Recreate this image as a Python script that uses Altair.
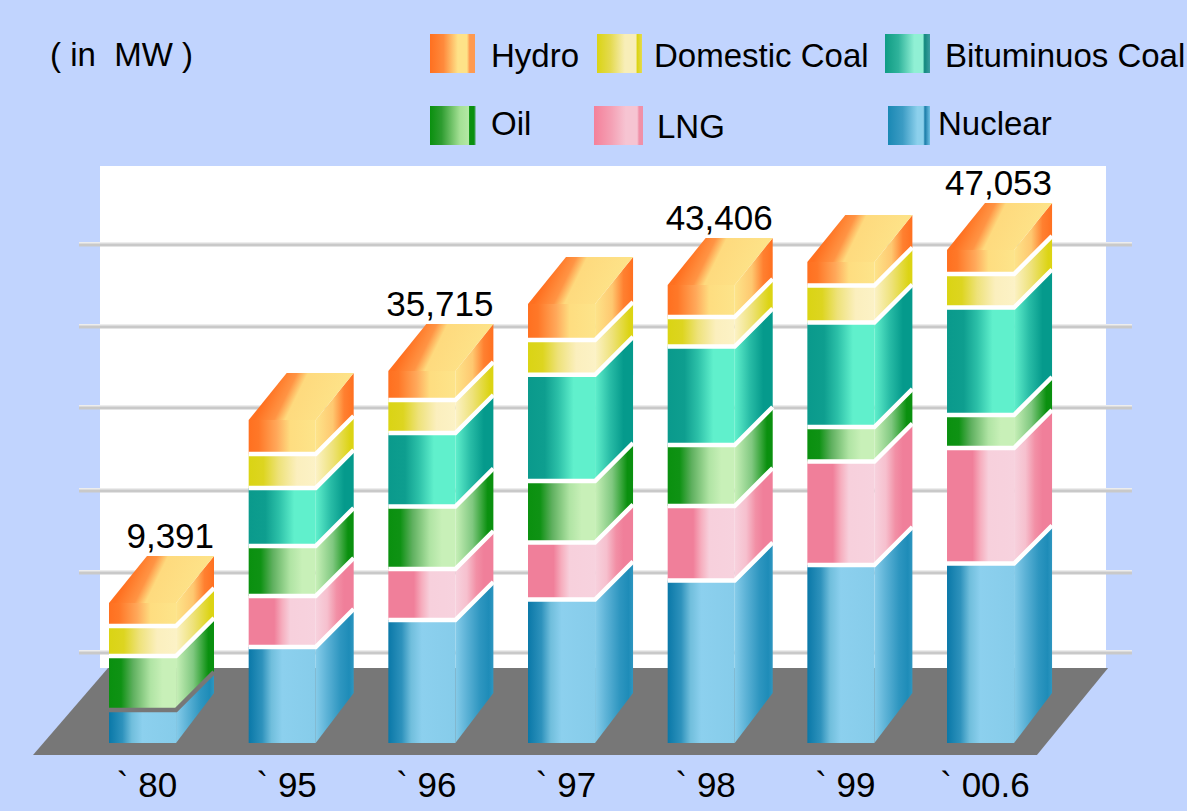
import altair as alt
import numpy as np
import pandas as pd

# Installed capacity in MW, bottom of the stack first.
YEARS = ["` 80", "` 95", "` 96", "` 97", "` 98", "` 99", "` 00.6"]
SERIES = ["Nuclear", "LNG", "Oil", "Bituminuos Coal", "Domestic Coal", "Hydro"]
NUCLEAR = [2214, 6440, 8251, 9788, 11944, 13703, 13873]
LNG = [0, 3745, 4998, 6468, 8454, 11744, 13106]
OIL = [3622, 5674, 7092, 6978, 6921, 3915, 3744]
BITUMINOUS = [0, 6581, 8340, 12051, 10587, 10690, 10671]
DOMESTIC = [2012, 3858, 3744, 3202, 2638, 3309, 3158]
HYDRO = [1543, 3858, 3290, 3220, 2862, 2442, 2501]
VALUES = [NUCLEAR, LNG, OIL, BITUMINOUS, DOMESTIC, HYDRO]
TOTAL_LABELS = {0: "9,391", 2: "35,715", 4: "43,406", 6: "47,053"}
GRID_MW = [6037, 12796, 22100, 31519, 39650, 47574]

# The value axis of this chart is not uniform: these pairs tie MW to drawn height.
AXIS_MW = [0, 9391, 35715, 43406, 47053, 60000]
AXIS_HEIGHT = [0, 140, 372, 458, 493, 617]

BAR_W, DEPTH_X = 0.48, 0.272
# Oblique rise of the receding edges: base of the bar, inner seams, top of the bar.
RISE_BASE, RISE_SEAM, RISE_TOP = 50, 38, 47

BACKGROUND = "#C1D4FE"
FLOOR = "#777777"


def grad(stops, x1=0, y1=0, x2=1, y2=0):
    return {
        "gradient": "linear", "x1": x1, "y1": y1, "x2": x2, "y2": y2,
        "stops": [{"offset": o, "color": c} for o, c in stops],
    }


FRONT = {
    "Nuclear": [(0, "#0A78A8"), (.2, "#2E92BC"), (.34, "#70BEDC"), (.5, "#8CD0EE"), (1, "#86CCEA")],
    "LNG": [(0, "#F07F9A"), (.38, "#F07F9A"), (.5, "#F6AEBE"), (.62, "#F7D0DC"), (1, "#F7D2DE")],
    "Oil": [(0, "#0A900F"), (.18, "#0F9214"), (.36, "#5FB05F"), (.62, "#B0E4A4"), (.8, "#C8F0B8"), (1, "#C8F0B8")],
    "Bituminuos Coal": [(0, "#0A9A8C"), (.25, "#0E9E8F"), (.45, "#2CC0A8"), (.68, "#60F0CC"), (1, "#60F0CC")],
    "Domestic Coal": [(0, "#DAD414"), (.22, "#DDD520"), (.45, "#EEE27A"), (.72, "#FBEFBE"), (1, "#FCF2C6")],
    "Hydro": [(0, "#FF7020"), (.15, "#FF7828"), (.42, "#FFA85A"), (.62, "#FEDD80"), (1, "#FDE48A")],
}
SIDE = {
    "Nuclear": [(0, "#86CCEA"), (.3, "#5CB2D6"), (.65, "#2E96C0"), (.88, "#1E8CB8"), (1, "#2E96C0")],
    "LNG": [(0, "#F7D2DE"), (.3, "#F6C0CE"), (.55, "#F290A6"), (.75, "#F07F9A"), (1, "#F07F9A")],
    "Oil": [(0, "#C8F0B8"), (.45, "#80C880"), (.85, "#0A900F"), (1, "#0A900F")],
    "Bituminuos Coal": [(0, "#60F0CC"), (.4, "#28BCA6"), (.75, "#059A8C"), (1, "#059A8C")],
    "Domestic Coal": [(0, "#FCF2C6"), (.45, "#EEE27A"), (.9, "#DCD414"), (1, "#DCD414")],
    "Hydro": [(0, "#FDE48A"), (.45, "#FEC870"), (.75, "#FF8030"), (1, "#FF7020")],
}
TOP_FACE = [(0, "#FF7020"), (.26, "#FF7020"), (.44, "#FF9444"), (.54, "#FEDA7E"), (1, "#FDE48A")]
SWATCH = {
    "Hydro": [(0, "#FF7020"), (.3, "#FF8A3C"), (.62, "#FEE288"), (.82, "#FEE288"), (.88, "#FF9A50"), (1, "#FF9A50")],
    "Domestic Coal": [(0, "#DAD414"), (.3, "#E4DA50"), (.62, "#F8EEB8"), (.86, "#F8EEB8"), (.9, "#DCD414"), (1, "#E4DA50")],
    "Bituminuos Coal": [(0, "#0F9C84"), (.3, "#2FB39B"), (.65, "#90F0D4"), (.84, "#90F0D4"), (.88, "#12887E"), (1, "#3C9CA0")],
    "Oil": [(0, "#0A900F"), (.25, "#2E9C30"), (.65, "#A4E094"), (.84, "#B4E8A4"), (.86, "#0A900F"), (.96, "#0A900F"), (1, "#A8C8E0")],
    "LNG": [(0, "#F4809A"), (.35, "#F4A0B4"), (.65, "#F6C4D2"), (.88, "#F6C4D2"), (.92, "#F090A8"), (1, "#F090A8")],
    "Nuclear": [(0, "#1A88B4"), (.35, "#3C9CC4"), (.7, "#8CD0EC"), (.84, "#8CD0EC"), (.88, "#1A7CA8"), (1, "#70C0E4")],
}


def height_of(mw):
    return float(np.interp(mw, AXIS_MW, AXIS_HEIGHT))


x_scale = alt.Scale(domain=[-0.7804, 7.7182], range=[0, 1187], nice=False, zero=False)
y_scale = alt.Scale(domain=[-68, 743], range=[811, 0], nice=False, zero=False)
X = lambda f: alt.X(f, type="quantitative", scale=x_scale, axis=None)
Y = lambda f: alt.Y(f, type="quantitative", scale=y_scale, axis=None)

# Split the stacks into faces: one front rectangle and one side parallelogram per segment.
front_rows, side_rows, sep_rows, top_rows, total_rows = [], [], [], [], []
for slot, year in enumerate(YEARS):
    base = 0
    xl, xr = slot, slot + BAR_W
    for name, vals in zip(SERIES, VALUES):
        mw = vals[slot]
        if mw == 0:
            continue
        h0, h1 = height_of(base), height_of(base + mw)
        rise0 = RISE_BASE if base == 0 else RISE_SEAM
        rise1 = RISE_TOP if name == "Hydro" else RISE_SEAM
        front_rows.append(dict(series=name, xl=xl, xr=xr, h0=h0, h1=h1))
        side_rows += [
            dict(series=name, bar=slot, x=xr, up=h1, low=h0),
            dict(series=name, bar=slot, x=xr + DEPTH_X, up=h1 + rise1, low=h0 + rise0),
        ]
        if name != "Hydro":
            tone = FLOOR if slot == 0 and name == "Nuclear" else "white"
            for i, (sx, sy) in enumerate([(xl, h1), (xr, h1), (xr + DEPTH_X, h1 + RISE_SEAM)]):
                sep_rows.append(dict(key=f"{slot}-{name}", tone=tone, x=sx, y=sy, i=i))
        base += mw
    top = height_of(base)
    top_rows += [
        dict(bar=slot, x=xl, up=top, low=top),
        dict(bar=slot, x=xl + DEPTH_X, up=top + RISE_TOP, low=top),
        dict(bar=slot, x=xr, up=top + RISE_TOP, low=top),
        dict(bar=slot, x=xr + DEPTH_X, up=top + RISE_TOP, low=top + RISE_TOP),
    ]
    if slot in TOTAL_LABELS:
        total_rows.append(dict(x=xr + DEPTH_X, y=top + RISE_TOP, label=TOTAL_LABELS[slot]))

front = pd.DataFrame(front_rows)
side = pd.DataFrame(side_rows)
seps = pd.DataFrame(sep_rows)
tops = pd.DataFrame(top_rows)
totals = pd.DataFrame(total_rows)
ticks = pd.DataFrame({"x": range(len(YEARS)), "label": YEARS})
grid = pd.DataFrame({"y": [height_of(v) for v in GRID_MW], "xa": -0.2148, "xb": 7.3240})
floor = pd.DataFrame({
    "x": [-0.544, -0.007, 6.644, 7.153],
    "up": [-12, 75, 75, 75],
    "low": [-12, -12, -12, 75],
})

layers = [
    # White plot panel and the grey floor under the bars.
    alt.Chart(pd.DataFrame({"p": [0]})).mark_rect(color="white").encode(
        x=alt.value(100), x2=alt.value(1106), y=alt.value(166), y2=alt.value(668)),
    alt.Chart(grid).mark_rule(color="#EDEDED", strokeWidth=2, yOffset=-2).encode(
        x=X("xa"), x2="xb", y=Y("y")),
    alt.Chart(grid).mark_rule(color="#C9C9C9", strokeWidth=3).encode(
        x=X("xa"), x2="xb", y=Y("y")),
    alt.Chart(floor).mark_area(color=FLOOR, interpolate="linear").encode(
        x=X("x"), y=Y("up"), y2="low"),
]

for name in SERIES:
    layers.append(
        alt.Chart(side[side.series == name]).mark_area(
            fill=grad(SIDE[name]), interpolate="linear").encode(
            x=X("x"), y=Y("up"), y2="low", detail="bar:N"))
    layers.append(
        alt.Chart(front[front.series == name]).mark_rect(fill=grad(FRONT[name])).encode(
            x=X("xl"), x2="xr", y=Y("h1"), y2="h0"))

layers.append(
    alt.Chart(tops).mark_area(
        fill=grad(TOP_FACE, 0, 0, 1, 0.22), interpolate="linear").encode(
        x=X("x"), y=Y("up"), y2="low", detail="bar:N"))

for tone in ["white", FLOOR]:
    layers.append(
        alt.Chart(seps[seps.tone == tone]).mark_line(
            color=tone, strokeWidth=4.5, interpolate="linear").encode(
            x=X("x"), y=Y("y"), detail="key:N", order="i:Q"))

TEXT = dict(font="Liberation Sans", color="black")
layers.append(
    alt.Chart(totals).mark_text(align="right", baseline="alphabetic", dy=-8, fontSize=35, **TEXT).encode(
        x=X("x"), y=Y("y"), text="label:N"))
layers.append(
    alt.Chart(ticks).mark_text(align="center", baseline="alphabetic", dx=38, fontSize=35, **TEXT).encode(
        x=X("x"), y=alt.value(797), text="label:N"))

# Hand-placed legend, since each key carries its own shaded ramp.
LEGEND = [
    ("Hydro", 430, 475, 34, 73, 491, 67),
    ("Domestic Coal", 597, 642, 34, 73, 654, 67),
    ("Bituminuos Coal", 885, 930, 34, 73, 945, 67),
    ("Oil", 430, 476, 106, 145, 491, 135),
    ("LNG", 594, 643, 106, 145, 657, 138),
    ("Nuclear", 888, 930, 106, 145, 938, 135),
]
for name, sx0, sx1, sy0, sy1, tx, ty in LEGEND:
    one = alt.Chart(pd.DataFrame({"label": [name]}))
    layers.append(one.mark_rect(fill=grad(SWATCH[name])).encode(
        x=alt.value(sx0), x2=alt.value(sx1), y=alt.value(sy0), y2=alt.value(sy1)))
    layers.append(one.mark_text(align="left", baseline="alphabetic", fontSize=33, **TEXT).encode(
        x=alt.value(tx), y=alt.value(ty), text="label:N"))

layers.append(
    alt.Chart(pd.DataFrame({"label": ["(\u00a0in\u00a0\u00a0MW\u00a0)"]})).mark_text(
        align="left", baseline="alphabetic", fontSize=33, **TEXT).encode(
        x=alt.value(50), y=alt.value(66), text="label:N"))

chart = alt.layer(*layers).properties(
    width=1187, height=811, padding=0, background=BACKGROUND,
    autosize=alt.AutoSizeParams(type="none"),
).configure_view(stroke=None)

chart.save("out.html", embed_options={"renderer": "svg", "actions": False})
